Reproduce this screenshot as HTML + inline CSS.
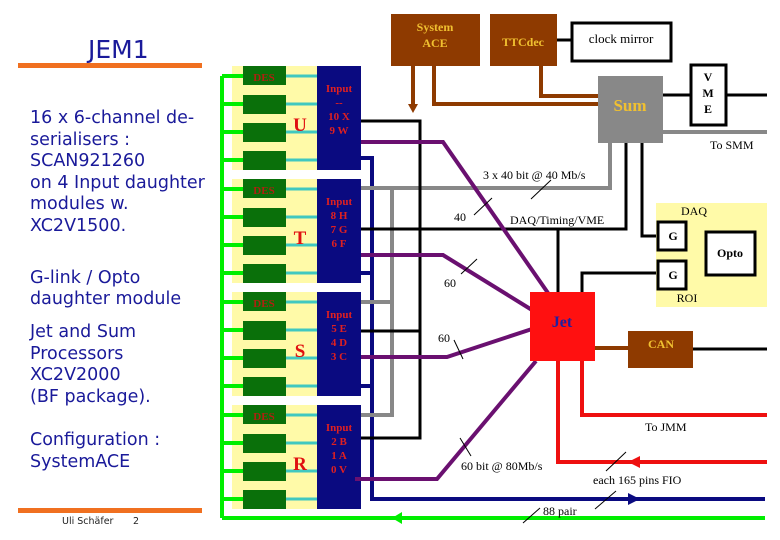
<!DOCTYPE html>
<html><head><meta charset="utf-8"><style>
html,body{margin:0;padding:0;background:#fff}
svg{display:block}
.l{font-family:"DejaVu Sans",sans-serif;fill:#1a1a9a}
.s{font-family:"Liberation Serif",serif}
</style></head><body>
<svg width="780" height="540" viewBox="0 0 780 540" xmlns="http://www.w3.org/2000/svg">
<rect width="780" height="540" fill="#fff"/>
<!-- left text -->
<text x="88" y="58" class="l" font-size="25">JEM1</text>
<rect x="18" y="63" width="184" height="5" fill="#f07020"/>
<g class="l" font-size="17.5">
<text x="30" y="123">16 x 6-channel de-</text>
<text x="30" y="145">serialisers :</text>
<text x="30" y="166">SCAN921260</text>
<text x="30" y="188">on 4 Input daughter</text>
<text x="30" y="209">modules w.</text>
<text x="30" y="231">XC2V1500.</text>
<text x="30" y="283">G-link / Opto</text>
<text x="30" y="304">daughter module</text>
<text x="30" y="337">Jet and Sum</text>
<text x="30" y="359">Processors</text>
<text x="30" y="380">XC2V2000</text>
<text x="30" y="402">(BF package).</text>
<text x="30" y="445">Configuration :</text>
<text x="30" y="467">SystemACE</text>
</g>
<rect x="18" y="508" width="184" height="5" fill="#f07020"/>
<text x="62" y="524" font-family="DejaVu Sans,sans-serif" font-size="9.5" fill="#222">Uli Schäfer</text>
<text x="133" y="524" font-family="DejaVu Sans,sans-serif" font-size="9.5" fill="#222">2</text>

<!-- modules -->
<g id="m">
<rect x="232" y="66" width="86" height="104" fill="#fffaa8"/>
<rect x="243" y="66" width="43" height="19" fill="#0a700a"/>
<rect x="243" y="95" width="43" height="19" fill="#0a700a"/>
<rect x="243" y="123" width="43" height="19" fill="#0a700a"/>
<rect x="243" y="151" width="43" height="19" fill="#0a700a"/>
<g stroke="#40c8c0" stroke-width="3"><line x1="286" y1="76" x2="317" y2="76"/><line x1="286" y1="104" x2="317" y2="104"/><line x1="286" y1="132" x2="317" y2="132"/><line x1="286" y1="160" x2="317" y2="160"/></g>
<g stroke="#00ee00" stroke-width="4"><line x1="222" y1="76" x2="243" y2="76"/><line x1="222" y1="104" x2="243" y2="104"/><line x1="222" y1="132" x2="243" y2="132"/><line x1="222" y1="160" x2="243" y2="160"/></g>
<text x="264" y="81" class="s" font-size="11" font-weight="bold" fill="#b02010" text-anchor="middle">DES</text>
<rect x="317" y="66" width="44" height="104" fill="#0a0a80"/>
</g>
<use href="#m" y="113"/><use href="#m" y="226"/><use href="#m" y="339"/>
<line x1="222" y1="76" x2="222" y2="518" stroke="#00ee00" stroke-width="4"/>
<line x1="222" y1="518" x2="765" y2="518" stroke="#00ee00" stroke-width="4"/>
<polygon points="392,518 402,512 402,524" fill="#00ee00"/>

<g class="s" font-weight="bold" fill="#e01010" text-anchor="middle">
<text x="300" y="131" font-size="19">U</text>
<text x="300" y="244" font-size="19">T</text>
<text x="300" y="357" font-size="19">S</text>
<text x="300" y="470" font-size="19">R</text>
</g>
<g class="s" font-weight="bold" fill="#e02020" font-size="11" text-anchor="middle">
<text x="339" y="92">Input</text><text x="339" y="106">--</text><text x="339" y="120">10 X</text><text x="339" y="134">9 W</text>
<text x="339" y="205">Input</text><text x="339" y="219">8 H</text><text x="339" y="233">7 G</text><text x="339" y="247">6 F</text>
<text x="339" y="318">Input</text><text x="339" y="332">5 E</text><text x="339" y="346">4 D</text><text x="339" y="360">3 C</text>
<text x="339" y="431">Input</text><text x="339" y="445">2 B</text><text x="339" y="459">1 A</text><text x="339" y="473">0 V</text>
</g>

<!-- navy bus -->
<g stroke="#0a0a80" stroke-width="4" fill="none">
<polyline points="361,158 372,158 372,499 765,499"/>
<line x1="361" y1="273" x2="372" y2="273"/>
<line x1="361" y1="386" x2="372" y2="386"/>
</g>
<polygon points="640,499 628,493 628,505" fill="#0a0a80"/>
<!-- gray -->
<g stroke="#888" stroke-width="4" fill="none">
<polyline points="361,188 610,188 610,143"/>
<polyline points="361,302 392,302"/>
<polyline points="392,188 392,415 361,415"/>
<line x1="663" y1="132" x2="767" y2="132"/>
</g>
<!-- black -->
<g stroke="#000" stroke-width="3" fill="none">
<polyline points="361,121 420,121 420,438 361,438"/>
<line x1="361" y1="229" x2="420" y2="229"/>
<line x1="361" y1="331" x2="420" y2="331"/>
<polyline points="420,229 626,229 626,143"/>
<line x1="558" y1="229" x2="558" y2="292"/>
<polyline points="642,143 642,236 657,236"/>
<polyline points="582,292 582,273 657,273"/>
<line x1="663" y1="95" x2="690" y2="95"/>
<line x1="727" y1="95" x2="767" y2="95"/>
<line x1="693" y1="349" x2="767" y2="349"/>
<line x1="755" y1="253" x2="767" y2="253"/>
<line x1="686" y1="240" x2="706" y2="240"/>
<line x1="686" y1="268" x2="706" y2="268"/>
<line x1="557" y1="40" x2="572" y2="40"/>
</g>
<!-- purple -->
<g stroke="#6a1070" stroke-width="4" fill="none">
<polyline points="361,142 443,142 548,293"/>
<polyline points="361,255 443,255 532,310"/>
<polyline points="361,357 447,357 532,329"/>
<polyline points="355,479 437,479 536,361"/>
</g>
<!-- brown -->
<rect x="391" y="14" width="89" height="52" fill="#8e3a00"/>
<rect x="490" y="14" width="67" height="52" fill="#8e3a00"/>
<g stroke="#8e3a00" stroke-width="4" fill="none">
<line x1="413" y1="66" x2="413" y2="106"/>
<polyline points="434,66 434,104 598,104"/>
<polyline points="541,66 541,96 598,96"/>
<line x1="595" y1="348" x2="628" y2="348"/>
</g>
<polygon points="413,113 408,104 418,104" fill="#8e3a00"/>
<text x="435" y="31" class="s" font-size="12" font-weight="bold" fill="#f0c030" text-anchor="middle">System</text>
<text x="435" y="47" class="s" font-size="12" font-weight="bold" fill="#f0c030" text-anchor="middle">ACE</text>
<text x="523" y="46" class="s" font-size="12" font-weight="bold" fill="#f0c030" text-anchor="middle">TTCdec</text>
<rect x="572" y="23" width="99" height="38" fill="#fff" stroke="#000" stroke-width="3"/>
<text x="621" y="43" class="s" font-size="13" text-anchor="middle">clock mirror</text>
<!-- Sum -->
<rect x="598" y="76" width="65" height="67" fill="#888"/>
<text x="630" y="111" class="s" font-size="17" font-weight="bold" fill="#f0c030" text-anchor="middle">Sum</text>
<rect x="691" y="65" width="35" height="60" fill="#fff" stroke="#000" stroke-width="3"/>
<g class="s" font-size="12" font-weight="bold" text-anchor="middle"><text x="708" y="81">V</text><text x="708" y="97">M</text><text x="708" y="113">E</text></g>
<!-- DAQ panel -->
<rect x="656" y="203" width="111" height="104" fill="#fffaa8"/>
<rect x="658" y="222" width="28" height="28" fill="#fff" stroke="#000" stroke-width="3"/>
<rect x="658" y="261" width="28" height="28" fill="#fff" stroke="#000" stroke-width="3"/>
<rect x="706" y="232" width="49" height="43" fill="#fff" stroke="#000" stroke-width="3"/>
<g class="s" font-weight="bold" font-size="12" text-anchor="middle"><text x="673" y="240">G</text><text x="673" y="279">G</text><text x="730" y="257">Opto</text></g>
<g class="s" font-size="12" text-anchor="middle"><text x="694" y="215">DAQ</text><text x="687" y="302">ROI</text></g>
<!-- Jet / CAN -->
<rect x="530" y="292" width="65" height="69" fill="#ff1010"/>
<text x="562" y="327" class="s" font-size="16" font-weight="bold" fill="#2020a0" text-anchor="middle">Jet</text>
<rect x="628" y="331" width="65" height="37" fill="#8e3a00"/>
<text x="661" y="348" class="s" font-size="12" font-weight="bold" fill="#f0c030" text-anchor="middle">CAN</text>
<g stroke="#ee1010" stroke-width="4" fill="none">
<polyline points="582,361 582,415 767,415"/>
<polyline points="558,361 558,462 767,462"/>
</g>
<polygon points="628,462 640,456 640,468" fill="#ee1010"/>
<!-- labels -->
<g class="s" font-size="12" fill="#000">
<text x="710" y="149">To SMM</text>
<text x="483" y="179">3 x 40 bit @ 40 Mb/s</text>
<text x="454" y="221">40</text>
<text x="510" y="224">DAQ/Timing/VME</text>
<text x="444" y="287">60</text>
<text x="438" y="342">60</text>
<text x="645" y="431">To JMM</text>
<text x="461" y="470">60 bit @ 80Mb/s</text>
<text x="593" y="484">each 165 pins FIO</text>
<text x="543" y="515">88 pair</text>
</g>
<g stroke="#000" stroke-width="1">
<line x1="551" y1="180" x2="531" y2="199"/>
<line x1="492" y1="198" x2="474" y2="215"/>
<line x1="477" y1="259" x2="461" y2="274"/>
<line x1="454" y1="340" x2="463" y2="359"/>
<line x1="460" y1="438" x2="471" y2="456"/>
<line x1="626" y1="452" x2="606" y2="471"/>
<line x1="616" y1="491" x2="595" y2="509"/>
<line x1="540" y1="508" x2="523" y2="523"/>
</g>
</svg>
</body></html>
